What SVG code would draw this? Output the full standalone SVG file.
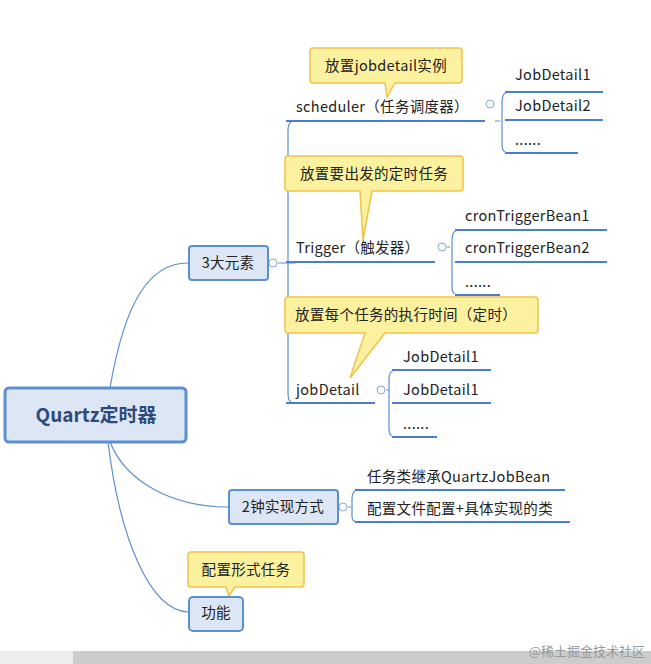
<svg xmlns="http://www.w3.org/2000/svg" width="651" height="664" viewBox="0 0 651 664">
<style>
text{font-family:"Noto Sans CJK SC","Liberation Sans",sans-serif;font-size:14.5px;fill:#222;letter-spacing:0.3px}
.topic{fill:#dce6f4;stroke:#5b8fd0;stroke-width:2}
.call{fill:#fcf19e;stroke:#f0c24d;stroke-width:1.5}
.ln{fill:none;stroke:#5b8fd0;stroke-width:1.2}
.ul{stroke:#4a7fcf;stroke-width:2}
.cc{fill:#fff;stroke:#8aa7d4;stroke-width:1}
</style>
<rect width="651" height="664" fill="#fff"/>
<g id="connectors">
<path class="ln" d="M110,388 C125,300 150,263 188,263"/>
<path class="ln" d="M110,442 C125,480 170,507 228,507"/>
<path class="ln" d="M108,442 C120,540 150,610 188,612"/>
<path class="ln" d="M278,263 H286 M296,121 C289,121 288,124 288,132 V392 C288,400 289,403 296,403 M286,263 H296"/>
<path class="ln" d="M495,121 H500 M510,92 C503,92 502,96 502,104 V142 C502,150 503,153 510,153"/>
<path class="ln" d="M447,247 H450 M460,230 C453,230 452,234 452,242 V286 C452,292 453,295 460,295"/>
<path class="ln" d="M386,390 H389 M397,370 C390,370 389,374 389,380 V428 C389,434 390,437 397,437"/>
<path class="ln" d="M348,507 H351 M359,490 C353,490 352,494 352,500 V516 C352,520 353,522 359,522"/>
<line class="ul" x1="286" y1="121" x2="485" y2="121"/>
<line class="ul" x1="286" y1="262" x2="435" y2="262"/>
<line class="ul" x1="286" y1="403" x2="375" y2="403"/>
<line class="ul" x1="505" y1="92" x2="603" y2="92"/>
<line class="ul" x1="505" y1="120" x2="603" y2="120"/>
<line class="ul" x1="505" y1="153" x2="578" y2="153"/>
<line class="ul" x1="455" y1="230" x2="607" y2="230"/>
<line class="ul" x1="455" y1="262" x2="607" y2="262"/>
<line class="ul" x1="455" y1="295" x2="500" y2="295"/>
<line class="ul" x1="392" y1="370" x2="491" y2="370"/>
<line class="ul" x1="392" y1="403" x2="491" y2="403"/>
<line class="ul" x1="392" y1="437" x2="437" y2="437"/>
<line class="ul" x1="355" y1="490" x2="565" y2="490"/>
<line class="ul" x1="355" y1="522" x2="570" y2="522"/>
</g>
<g id="root"><rect x="5" y="388" width="181" height="54" rx="4" fill="#dce6f4" stroke="#5b8fd0" stroke-width="3"/><text x="96" y="422" text-anchor="middle" style="font-size:19px;font-weight:bold;fill:#2e4a7a;letter-spacing:0">Quartz定时器</text></g>
<g id="n3"><rect class="topic" x="189" y="246" width="79" height="34" rx="3"/><text x="228" y="268" text-anchor="middle">3大元素</text><circle class="cc" cx="273" cy="263" r="4"/></g>
<g id="scheduler"><text x="296" y="112">scheduler（任务调度器）</text><circle class="cc" cx="490" cy="104" r="4"/></g>
<g id="jd1"><text x="515" y="80">JobDetail1</text></g>
<g id="jd2"><text x="515" y="111">JobDetail2</text></g>
<g id="jd3"><text x="515" y="145">......</text></g>
<g id="trigger"><text x="296" y="253">Trigger（触发器）</text><circle class="cc" cx="442" cy="247" r="4"/></g>
<g id="ct1"><text x="465" y="221">cronTriggerBean1</text></g>
<g id="ct2"><text x="465" y="253">cronTriggerBean2</text></g>
<g id="ct3"><text x="465" y="287">......</text></g>
<g id="jobDetail"><text x="296" y="395">jobDetail</text><circle class="cc" cx="381" cy="390" r="4"/></g>
<g id="jdd1"><text x="403" y="362">JobDetail1</text></g>
<g id="jdd2"><text x="403" y="395">JobDetail1</text></g>
<g id="jdd3"><text x="403" y="429">......</text></g>
<g id="c1"><path class="call" d="M313,48 H459 Q462,48 462,51 V80 Q462,83 459,83 H395 L387,97 L385,83 H313 Q310,83 310,80 V51 Q310,48 313,48 Z"/><text x="386" y="71" text-anchor="middle">放置jobdetail实例</text></g>
<g id="c2"><path class="call" d="M288,156 H460 Q463,156 463,159 V188 Q463,191 460,191 H372 L363,240 L360,191 H288 Q285,191 285,188 V159 Q285,156 288,156 Z"/><text x="374" y="179" text-anchor="middle">放置要出发的定时任务</text></g>
<g id="c3"><path class="call" d="M288,297 H535 Q538,297 538,300 V330 Q538,333 535,333 H385 L350,378 L365,333 H288 Q285,333 285,330 V300 Q285,297 288,297 Z"/><text x="406" y="320" text-anchor="middle">放置每个任务的执行时间（定时）</text></g>
<g id="n2"><rect class="topic" x="229" y="490" width="109" height="34" rx="3"/><text x="283" y="512" text-anchor="middle">2钟实现方式</text><circle class="cc" cx="343" cy="507" r="4"/></g>
<g id="i1"><text x="367" y="482">任务类继承QuartzJobBean</text></g>
<g id="i2"><text x="367" y="514">配置文件配置+具体实现的类</text></g>
<g id="c4"><path class="call" d="M191,552 H301 Q304,552 304,555 V584 Q304,587 301,587 H235 L229,596 L226,587 H191 Q188,587 188,584 V555 Q188,552 191,552 Z"/><text x="246" y="575" text-anchor="middle">配置形式任务</text></g>
<g id="gn"><rect class="topic" x="189" y="597" width="54" height="34" rx="4"/><text x="216" y="618" text-anchor="middle">功能</text></g>
<rect x="0" y="651" width="73" height="13" fill="#eeeeee"/>
<rect x="73" y="651" width="578" height="13" fill="#cccccc"/>
<text x="645" y="656" text-anchor="end" style="font-size:13px;fill:#999;letter-spacing:0">@稀土掘金技术社区</text>
</svg>
